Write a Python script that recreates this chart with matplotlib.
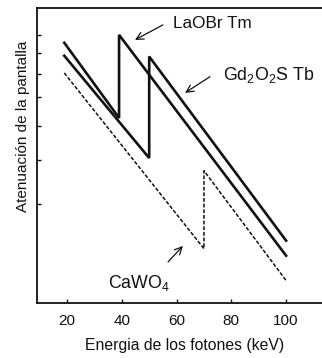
"""
Atenuacion de la pantalla vs energia de los fotones -- three phosphor screens.
Output: out.png
"""

import matplotlib
matplotlib.use("Agg")
import matplotlib.pyplot as plt
from matplotlib.ticker import FixedLocator, NullFormatter, NullLocator

# -- Data (y is relative attenuation, log scale) ------------------------------

laobr_kev = [19, 39, 39, 100]
laobr_att = [8.55, 5.25, 9.0, 2.15]

gd_kev = [19, 50, 50, 100]
gd_att = [7.86, 4.05, 7.82, 2.37]

cawo_kev = [19, 70, 70, 100]
cawo_att = [7.03, 2.25, 3.73, 1.83]

x_ticks = [20, 40, 60, 80, 100]
y_ticks = [3, 4, 5, 6, 7, 8, 9]

# -- Style ---------------------------------------------------------------------

INK = "#111111"
FONT = "Liberation Sans"
plt.rcParams["font.family"] = [FONT, "DejaVu Sans"]
plt.rcParams["mathtext.fontset"] = "custom"
plt.rcParams["mathtext.rm"] = FONT
plt.rcParams["mathtext.it"] = FONT

fig = plt.figure(figsize=(3.22, 3.58), dpi=100)
ax = fig.add_axes([0.115, 0.1536, 0.885, 0.8244])

ax.plot(laobr_kev, laobr_att, color=INK, lw=1.9, solid_joinstyle="miter")
ax.plot(gd_kev, gd_att, color=INK, lw=1.9, solid_joinstyle="miter")
ax.plot(cawo_kev, cawo_att, color=INK, lw=1.1, ls=(0, (2.5, 1.2)))

ax.set_yscale("log")
ax.set_xlim(9.05, 113.1)
ax.set_ylim(1.582, 10.72)

ax.xaxis.set_major_locator(FixedLocator(x_ticks))
ax.yaxis.set_major_locator(FixedLocator(y_ticks))
ax.yaxis.set_minor_locator(NullLocator())
ax.yaxis.set_major_formatter(NullFormatter())
ax.yaxis.set_minor_formatter(NullFormatter())
ax.tick_params(axis="both", direction="in", length=3, width=1, color=INK)
ax.tick_params(axis="x", labelsize=11, pad=8, labelcolor=INK)

for side in ("left", "bottom", "top"):
    ax.spines[side].set_linewidth(1.3)
    ax.spines[side].set_color(INK)
ax.spines["right"].set_visible(False)

ax.set_xlabel("Energia de los fotones (keV)", fontsize=11.3, color=INK)
ax.xaxis.set_label_coords(0.516, -0.118)
ax.set_ylabel("Atenuación de la pantalla", fontsize=11, color=INK)
ax.yaxis.set_label_coords(-0.024, 0.60)

# -- Labels with arrows ----------------------------------------------------------
arrow_kw = dict(arrowstyle="->", color=INK, lw=0.9, mutation_scale=13,
                shrinkA=0, shrinkB=0)

ax.text(58.7, 9.67, "LaOBr Tm", fontsize=12.3, color=INK, ha="left", va="center")
ax.annotate("", xy=(44.8, 8.71), xytext=(55.0, 9.6), arrowprops=arrow_kw)

ax.text(76.9, 6.95, "Gd$_2$O$_2$S Tb", fontsize=12.8, color=INK,
        ha="left", va="center")
ax.annotate("", xy=(63.1, 6.18), xytext=(72.2, 6.86), arrowprops=arrow_kw)

ax.text(46.3, 1.80, "CaWO$_4$", fontsize=12.8, color=INK, ha="center", va="center")
ax.annotate("", xy=(62.3, 2.29), xytext=(56.9, 2.065), arrowprops=arrow_kw)

fig.savefig("out.png", dpi=100, facecolor="white")
